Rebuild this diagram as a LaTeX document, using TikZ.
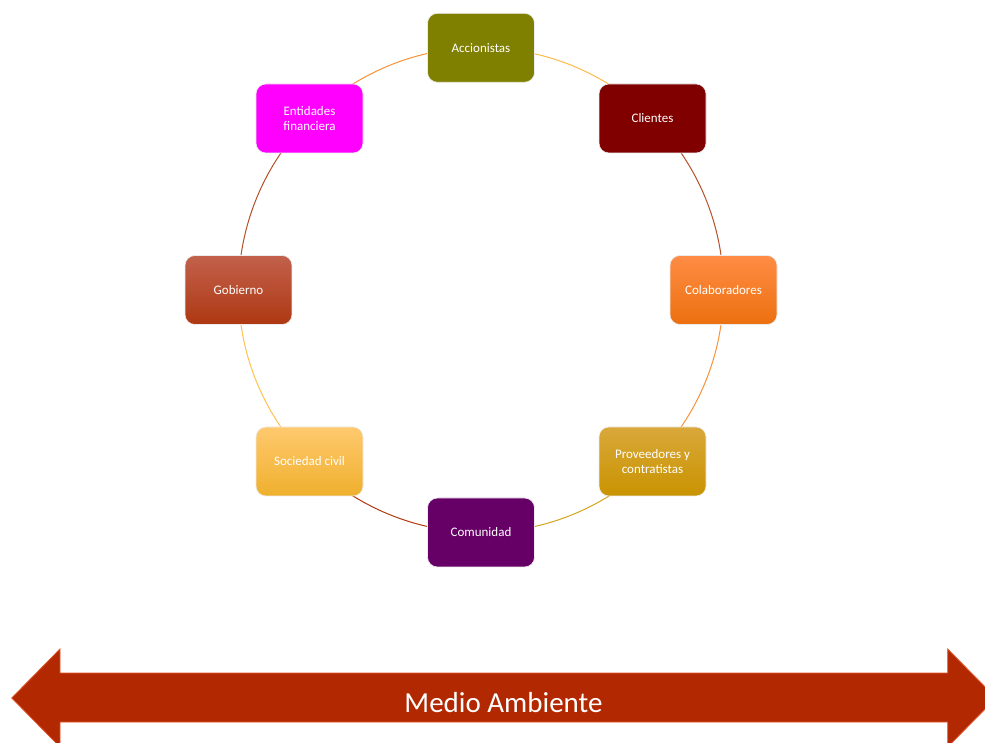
\documentclass[tikz,border=0pt]{standalone}
\usepackage{fontspec}
\setmainfont{Carlito}
\usetikzlibrary{backgrounds}
\definecolor{cAcc}{HTML}{808000}
\definecolor{cCli}{HTML}{800000}
\definecolor{cColT}{HTML}{FF8C45}
\definecolor{cColB}{HTML}{EC700F}
\definecolor{cProT}{HTML}{D9A83A}
\definecolor{cProB}{HTML}{C99300}
\definecolor{cCom}{HTML}{660066}
\definecolor{cSocT}{HTML}{FFC96E}
\definecolor{cSocB}{HTML}{EFB02D}
\definecolor{cGobT}{HTML}{C2614C}
\definecolor{cGobB}{HTML}{AE3812}
\definecolor{cEnt}{HTML}{FF00FF}
\definecolor{cArrow}{HTML}{B22800}
\definecolor{cArrowEdge}{HTML}{E2552C}
\definecolor{aLightOr}{HTML}{FFB84A}
\definecolor{aBrown}{HTML}{B4502A}
\definecolor{aOrange}{HTML}{F7923A}
\definecolor{aGold}{HTML}{D4A41C}
\definecolor{aRed}{HTML}{B2380F}
\definecolor{aYellow}{HTML}{FFC24D}
\begin{document}
\begin{tikzpicture}[x=1pt,y=1pt,
  party/.style={rectangle, rounded corners=10pt, minimum width=107pt, minimum height=69pt,
    align=center, text=white, font=\fontsize{13}{14.5}\selectfont,
    draw=white!85!gray, line width=0.6pt},
  ring/.style={line width=1pt}]
\useasboundingbox (0,0) rectangle (985,742);
% circle centre (481,452), radius 242.5
\node[party, fill=cAcc] (acc) at (481,694.2) {Accionistas};
\node[party, fill=cCli] (cli) at (652.5,623.5) {Clientes};
\node[party, top color=cColT, bottom color=cColB] (col) at (723.5,452) {Colaboradores};
\node[party, top color=cProT, bottom color=cProB] (pro) at (652.5,280.5) {Proveedores y\\contratistas};
\node[party, fill=cCom] (com) at (481,209.5) {Comunidad};
\node[party, top color=cSocT, bottom color=cSocB] (soc) at (309.5,280.5) {Sociedad civil};
\node[party, top color=cGobT, bottom color=cGobB] (gob) at (238.5,452) {Gobierno};
\node[party, fill=cEnt] (ent) at (309.5,623.5) {Entidades\\financiera};
\begin{scope}[on background layer]
\draw[ring, aLightOr] (acc.center) arc[start angle=90, end angle=45, radius=242.5];
\draw[ring, aBrown] (cli.center) arc[start angle=45, end angle=0, radius=242.5];
\draw[ring, aOrange] (col.center) arc[start angle=0, end angle=-45, radius=242.5];
\draw[ring, aGold] (pro.center) arc[start angle=-45, end angle=-90, radius=242.5];
\draw[ring, aRed] (com.center) arc[start angle=-90, end angle=-135, radius=242.5];
\draw[ring, aYellow] (soc.center) arc[start angle=-135, end angle=-180, radius=242.5];
\draw[ring, aBrown] (gob.center) arc[start angle=180, end angle=135, radius=242.5];
\draw[ring, aOrange] (ent.center) arc[start angle=135, end angle=90, radius=242.5];
\end{scope}
% double block arrow
\begin{scope}
\clip (0,0) rectangle (985,742);
\draw[fill=cArrow, draw=cArrowEdge, line width=0.8pt]
  (11.7,44) -- (60,93) -- (60,69) -- (947.7,69) -- (947.7,93) -- (996,44)
  -- (947.7,-5) -- (947.7,20) -- (60,20) -- (60,-5) -- cycle;
\end{scope}
\node[anchor=base, text=white, font=\fontsize{29}{32}\selectfont, inner sep=0pt] (medio) at (503.5,30) {Medio Ambiente};
\end{tikzpicture}
\end{document}
